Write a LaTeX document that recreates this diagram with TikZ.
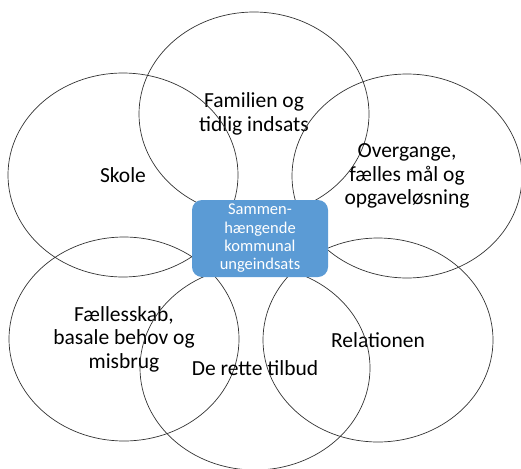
\documentclass[tikz,border=0pt]{standalone}
\usepackage{fontspec}
\setmainfont{Carlito}
\usetikzlibrary{shapes.geometric}
\definecolor{boxblue}{HTML}{5B9BD5}
\tikzset{
  area/.style={ellipse, draw=black!80, line width=0.7pt, minimum width=230pt,
    minimum height=204pt, inner sep=0pt, align=center,
    font=\fontsize{21.5}{23.5}\selectfont},
  hub/.style={rectangle, rounded corners=10pt, fill=boxblue, text=white,
    minimum width=136pt, minimum height=77pt, inner sep=0pt, align=center,
    font=\fontsize{16.5}{18.3}\selectfont}
}

\begin{document}
\begin{tikzpicture}[x=1pt, y=-1pt]
\useasboundingbox (0,0) rectangle (521,468);

% outer areas
\node[area] (familie) at (254,114) {Familien og\\tidlig indsats};
\node[area] (skole) at (123,175) {Skole};
\node[area] (overgang) at (407,176) {Overgange,\\fælles mål og\\opgaveløsning};
\node[area] (faelles) at (124,339) {Fællesskab,\\basale behov og\\misbrug};
\node[area] (relation) at (378,340) {Relationen};
\node[area] (tilbud) at (255,368) {De rette tilbud};

% centre
\node[hub] (hub) at (260,238.5) {Sammen-\\hængende\\kommunal\\ungeindsats};
\end{tikzpicture}
\end{document}
